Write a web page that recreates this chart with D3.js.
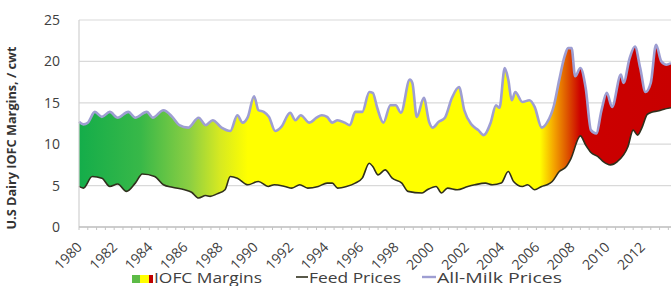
<!DOCTYPE html>
<html>
<head>
<meta charset="utf-8">
<script src="https://cdn.jsdelivr.net/npm/d3@7"></script>
<style>
  body { margin: 0; background: #fff; }
  text { font-family: "Open Sans", "DejaVu Sans", sans-serif; }
</style>
</head>
<body>
<div id="chart"></div>
<script>
// milk price readings (decimal year, $/cwt)
const milkDates = [1980.0, 1980.25, 1980.5, 1980.9, 1981.3, 1981.75, 1982.2, 1982.8, 1983.2, 1983.85,
  1984.2, 1984.8, 1985.3, 1985.7, 1986.2, 1986.8, 1987.2, 1987.6, 1988.1, 1988.6,
  1989.0, 1989.3, 1989.6, 1989.95, 1990.2, 1990.5, 1990.8, 1991.15, 1991.5, 1992.0,
  1992.3, 1992.6, 1993.1, 1993.5, 1993.8, 1994.1, 1994.4, 1994.7, 1995.1, 1995.4,
  1995.7, 1996.1, 1996.5, 1996.7, 1996.95, 1997.3, 1997.7, 1998.0, 1998.3, 1998.8,
  1998.95, 1999.2, 1999.6, 1999.9, 2000.1, 2000.45, 2000.8, 2001.2, 2001.6, 2001.9,
  2002.3, 2002.7, 2003.0, 2003.4, 2003.7, 2003.9, 2004.2, 2004.4, 2004.6, 2004.8,
  2005.2, 2005.6, 2005.9, 2006.3, 2006.6, 2007.0, 2007.3, 2007.6, 2007.8, 2008.0,
  2008.2, 2008.5, 2008.8, 2009.1, 2009.4, 2009.7, 2010.0, 2010.3, 2010.8, 2010.95,
  2011.3, 2011.6, 2011.9, 2012.2, 2012.5, 2012.8, 2013.1, 2013.4, 2013.65];
const milkPrices = [12.7, 12.4, 12.6, 13.9, 13.3, 13.9, 13.2, 13.9, 13.2, 13.9,
  13.2, 14.1, 13.3, 12.3, 12.0, 13.2, 12.3, 12.9, 12.0, 11.6,
  13.5, 12.6, 13.3, 15.8, 14.1, 13.9, 13.3, 11.6, 12.1, 13.8,
  12.9, 13.5, 12.6, 13.2, 13.5, 13.3, 12.6, 12.9, 12.6, 12.3,
  13.9, 13.9, 16.3, 16.2, 14.4, 12.6, 14.7, 14.7, 13.8, 17.8,
  17.4, 13.3, 15.6, 12.7, 12.0, 12.7, 13.2, 15.6, 16.9, 14.1,
  12.4, 11.7, 11.1, 12.6, 14.7, 14.4, 19.2, 17.8, 15.3, 16.3,
  15.1, 15.3, 14.5, 12.0, 12.6, 14.7, 17.8, 20.6, 21.6, 21.6,
  18.2, 19.2, 16.8, 11.7, 11.3, 14.1, 16.2, 14.5, 18.4, 17.4,
  20.4, 21.8, 19.2, 16.3, 17.4, 22.0, 20.0, 19.6, 19.8];

// feed price readings
const feedDates = [1980.0, 1980.25, 1980.75, 1981.3, 1981.75, 1982.2, 1982.7, 1983.2, 1983.6, 1984.3,
  1984.8, 1985.3, 1986.0, 1986.4, 1986.8, 1987.2, 1987.45, 1987.85, 1988.3, 1988.6,
  1989.0, 1989.6, 1990.2, 1990.75, 1991.1, 1991.7, 1992.1, 1992.55, 1993.0, 1993.6,
  1994.1, 1994.4, 1994.7, 1995.2, 1995.7, 1996.1, 1996.5, 1996.7, 1997.0, 1997.4,
  1997.8, 1998.35, 1998.7, 1999.5, 1999.8, 2000.3, 2000.6, 2000.95, 2001.5, 2002.1,
  2002.5, 2003.1, 2003.5, 2004.0, 2004.4, 2004.7, 2005.2, 2005.5, 2005.9, 2006.3,
  2006.6, 2006.9, 2007.3, 2007.7, 2007.95, 2008.5, 2008.8, 2009.1, 2009.5, 2009.8,
  2010.2, 2010.6, 2011.2, 2011.5, 2011.75, 2012.0, 2012.3, 2012.6, 2012.9, 2013.2, 2013.65];
const feedPrices = [4.9, 4.7, 6.1, 5.9, 4.9, 5.2, 4.3, 5.3, 6.4, 6.1,
  5.1, 4.8, 4.5, 4.2, 3.5, 3.8, 3.7, 4.0, 4.5, 6.1,
  5.9, 5.1, 5.5, 4.9, 5.1, 4.9, 4.7, 5.1, 4.7, 4.9,
  5.3, 5.3, 4.7, 4.9, 5.3, 5.9, 7.7, 7.3, 6.3, 6.9,
  5.9, 5.3, 4.3, 4.1, 4.5, 4.9, 4.1, 4.7, 4.5, 4.9,
  5.1, 5.3, 5.1, 5.3, 6.7, 5.5, 4.9, 5.1, 4.5, 4.9,
  5.1, 5.5, 6.7, 7.3, 8.2, 11.0, 9.9, 9.0, 8.5, 7.9,
  7.5, 7.9, 9.7, 11.7, 11.1, 12.0, 13.6, 13.9, 14.0, 14.2, 14.4];

const yTicks = [0, 5, 10, 15, 20, 25];
const xTickYears = d3.range(1980, 2013, 2);
const legendLabels = ["IOFC Margins", "Feed Prices", "All-Milk Prices"];

const margin = { top: 20, right: 0, bottom: 59, left: 79 };
const width = 671 - margin.left - margin.right;
const height = 286 - margin.top - margin.bottom;

const milk = milkDates.map((d, i) => ({ year: d, value: milkPrices[i] }));
const feed = feedDates.map((d, i) => ({ year: d, value: feedPrices[i] }));

const svg = d3.select("#chart").append("svg")
  .attr("width", 671).attr("height", 286);

const g = svg.append("g").attr("transform", `translate(${margin.left},${margin.top})`);

const x = d3.scaleLinear().domain([1980, 2013.65]).range([0, width]);
const y = d3.scaleLinear().domain([0, 25]).range([height, 0]);

// gridlines
g.selectAll(".grid").data(yTicks.filter(d => d > 0)).enter().append("line")
  .attr("x1", 0).attr("x2", width)
  .attr("y1", d => y(d)).attr("y2", d => y(d))
  .attr("stroke", "#d9d9d9").attr("stroke-width", 1.2);

// gradient of the margin fill
const defs = svg.append("defs");
const grad = defs.append("linearGradient").attr("id", "iofc")
  .attr("gradientUnits", "userSpaceOnUse")
  .attr("x1", x(1980)).attr("x2", x(2013.65)).attr("y1", 0).attr("y2", 0);
const stops = [
  [1980, "#14ad4a"], [1983.5, "#38b848"], [1986.3, "#8ccf42"], [1988, "#d6e921"],
  [1989.6, "#ffff00"], [2006.2, "#ffff00"], [2007.0, "#f4a400"], [2007.7, "#df5a00"],
  [2008.5, "#cc0000"], [2013.65, "#c80000"]
];
stops.forEach(([yr, c]) => grad.append("stop")
  .attr("offset", (x(yr) - x(1980)) / (x(2013.65) - x(1980)))
  .attr("stop-color", c));

// clip: everything above the feed line
defs.append("clipPath").attr("id", "aboveFeed").append("path")
  .attr("d", d3.area().x(d => x(d.year)).y0(-5).y1(d => y(d.value))
    .curve(d3.curveMonotoneX)(feed));

g.append("path").datum(milk)
  .attr("clip-path", "url(#aboveFeed)")
  .attr("fill", "url(#iofc)")
  .attr("d", d3.area().x(d => x(d.year)).y0(height).y1(d => y(d.value))
    .curve(d3.curveMonotoneX));

// lines
g.append("path").datum(feed)
  .attr("fill", "none").attr("stroke", "#2f2f1c").attr("stroke-width", 1.6)
  .attr("d", d3.line().x(d => x(d.year)).y(d => y(d.value)).curve(d3.curveMonotoneX));

g.append("path").datum(milk)
  .attr("fill", "none").attr("stroke", "#9e9ed2").attr("stroke-width", 2.6)
  .attr("stroke-linejoin", "round")
  .attr("d", d3.line().x(d => x(d.year)).y(d => y(d.value)).curve(d3.curveMonotoneX));

// axes
g.append("line").attr("x1", 0).attr("x2", 0).attr("y1", 0).attr("y2", height)
  .attr("stroke", "#d0d0d0").attr("stroke-width", 1.2);
g.append("line").attr("x1", 0).attr("x2", width).attr("y1", height).attr("y2", height)
  .attr("stroke", "#bdbdbd").attr("stroke-width", 1.5);
g.selectAll(".minor").data(d3.range(1980, 2013.6, 0.5)).enter().append("line")
  .attr("x1", d => x(d)).attr("x2", d => x(d))
  .attr("y1", height).attr("y2", height + 3)
  .attr("stroke", "#c4c4c4");

g.selectAll(".ylab").data(yTicks).enter().append("text")
  .attr("x", -19).attr("y", d => y(d)).attr("dy", "0.35em")
  .attr("text-anchor", "end").attr("font-size", 14).attr("fill", "#404040")
  .text(d => d);

g.selectAll(".xlab").data(xTickYears).enter().append("text")
  .attr("transform", d => `translate(${x(d) + 4},${height + 21}) rotate(-45)`)
  .attr("text-anchor", "end").attr("font-size", 14).attr("fill", "#404040")
  .text(d => d);

svg.append("text")
  .attr("transform", "translate(16,138) rotate(-90)")
  .attr("text-anchor", "middle").attr("font-size", 12).attr("font-weight", "bold")
  .attr("fill", "#333").attr("textLength", 183).attr("lengthAdjust", "spacingAndGlyphs")
  .text("U.S Dairy IOFC Margins, / cwt");

// legend
const lg = svg.append("g");
lg.append("rect").attr("x", 132).attr("y", 275).attr("width", 8).attr("height", 8).attr("fill", "#5cbb46");
lg.append("rect").attr("x", 140).attr("y", 275).attr("width", 9).attr("height", 8).attr("fill", "#ffff00");
lg.append("rect").attr("x", 149).attr("y", 275).attr("width", 4).attr("height", 8).attr("fill", "#c00000");
lg.append("text").attr("x", 154).attr("y", 283).attr("font-size", 15).attr("fill", "#404040")
  .attr("textLength", 108).attr("lengthAdjust", "spacingAndGlyphs").text(legendLabels[0]);
lg.append("line").attr("x1", 296).attr("x2", 308).attr("y1", 277).attr("y2", 277)
  .attr("stroke", "#2f2f1c").attr("stroke-width", 1.6);
lg.append("text").attr("x", 309).attr("y", 283).attr("font-size", 15).attr("fill", "#404040")
  .attr("textLength", 92).attr("lengthAdjust", "spacingAndGlyphs").text(legendLabels[1]);
lg.append("line").attr("x1", 422).attr("x2", 436).attr("y1", 277).attr("y2", 277)
  .attr("stroke", "#9e9ed2").attr("stroke-width", 2.4);
lg.append("text").attr("x", 437).attr("y", 283).attr("font-size", 15).attr("fill", "#404040")
  .attr("textLength", 125).attr("lengthAdjust", "spacingAndGlyphs").text(legendLabels[2]);
</script>
</body>
</html>
